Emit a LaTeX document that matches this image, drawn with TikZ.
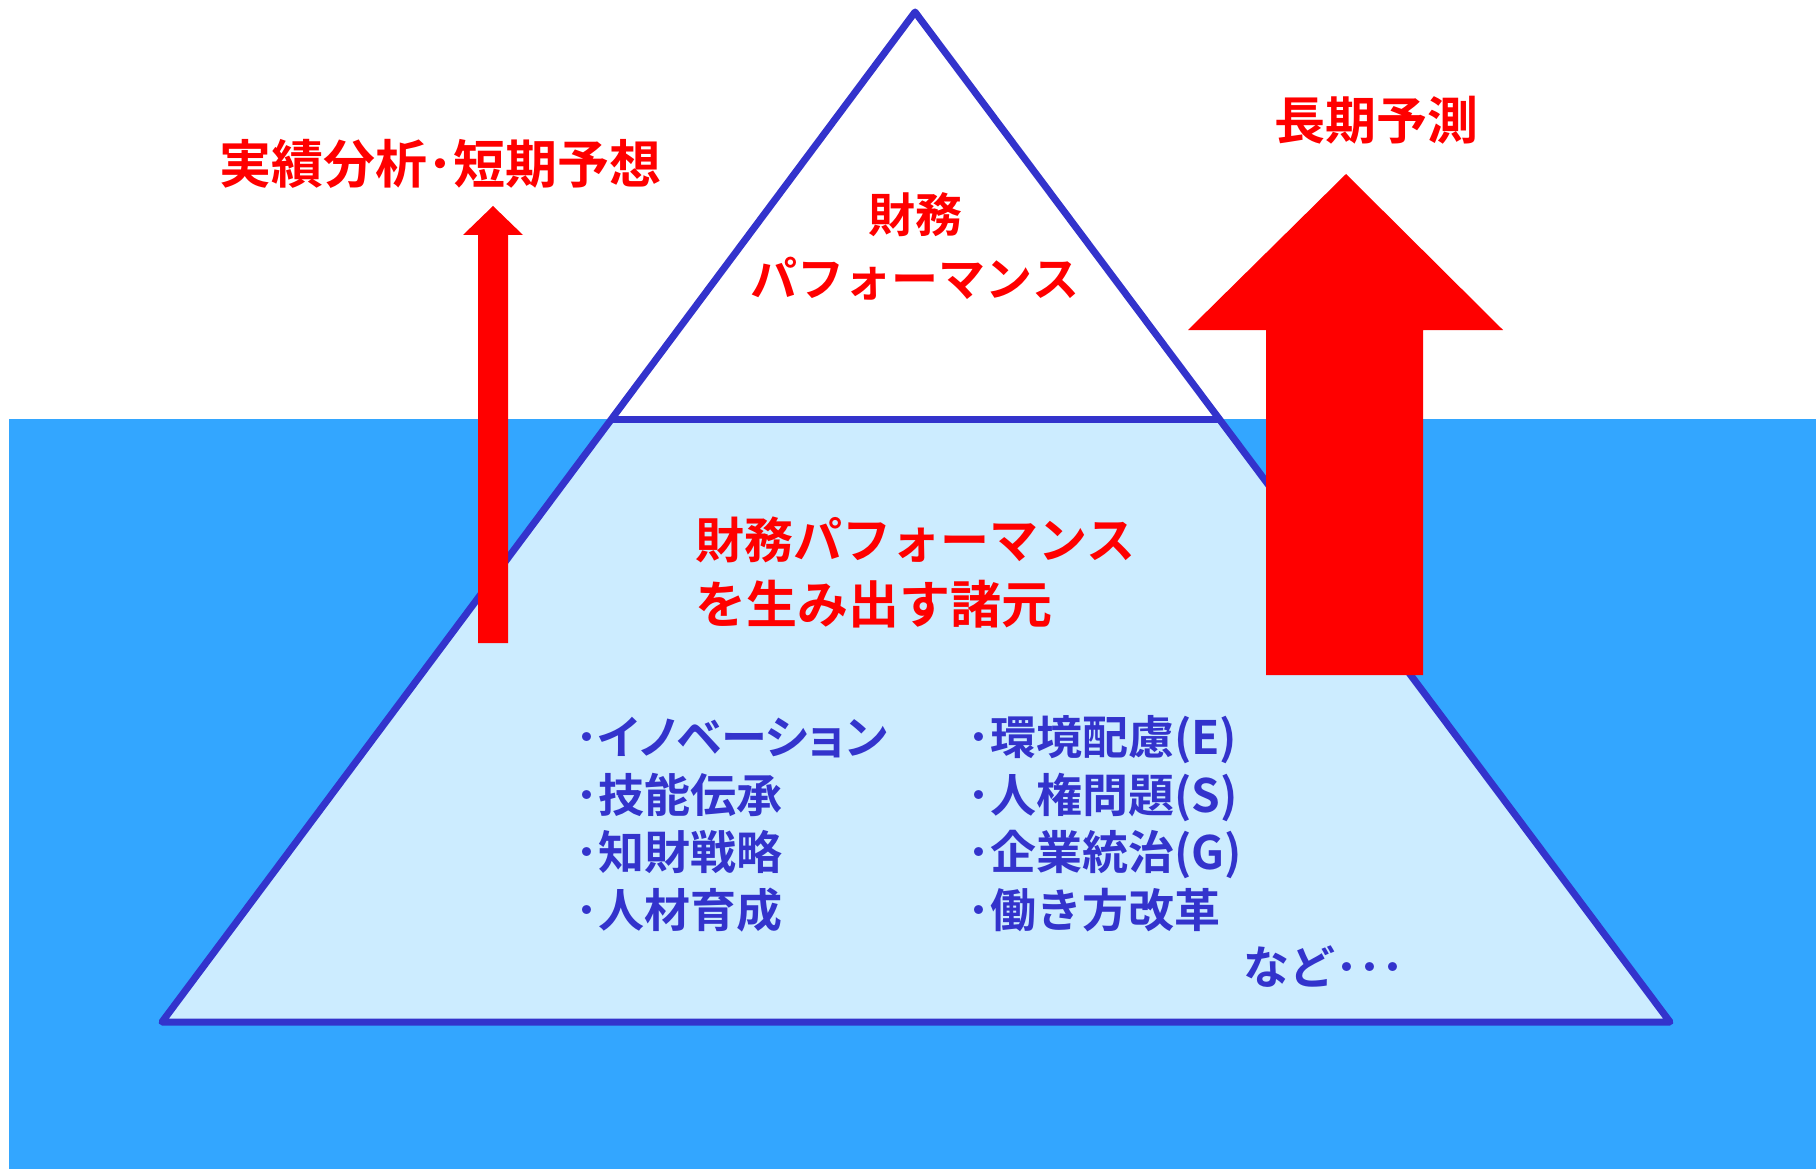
\documentclass[tikz,border=0pt]{standalone}
\usepackage{fontspec}
\newfontfamily\jp[BoldFont={Noto Sans CJK JP Bold}]{Noto Sans CJK JP}
\newfontfamily\jpp[BoldFont={Noto Sans CJK JP Bold},RawFeature=+palt]{Noto Sans CJK JP}
\definecolor{water}{RGB}{51,166,255}
\definecolor{ice}{RGB}{204,236,255}
\definecolor{edge}{RGB}{51,51,204}
\definecolor{hot}{RGB}{255,0,0}
\tikzset{
  lbl/.style={inner sep=0pt, font=\jp\bfseries\fontsize{46}{58}\selectfont, text height=0.88em, text depth=0.12em},
  redlbl/.style={lbl, text=hot},
  bluelbl/.style={lbl, text=edge},
  outline/.style={draw=edge, line width=7pt, line join=round, line cap=round},
  bigarrow/.style={fill=hot, draw=none}
}
\begin{document}
\begin{tikzpicture}[x=1pt,y=-1pt]
\useasboundingbox (0,0) rectangle (1816,1169);
% water
\fill[water] (9,419) rectangle (1816,1169);
% pyramid points
\coordinate (apex) at (915,12);
\coordinate (bl) at (162,1022);
\coordinate (br) at (1670,1022);
\coordinate (dl) at (612,419);
\coordinate (dr) at (1219,419);
\fill[white] (apex) -- (dl) -- (dr) -- cycle;
\fill[ice] (dl) -- (dr) -- (br) -- (bl) -- cycle;
\draw[outline] (apex) -- (bl) -- (br) -- cycle;
\draw[outline] (dl) -- (dr);
% left arrow
\fill[bigarrow] (478,643) -- (478,235) -- (463,235) -- (493,206) -- (523,235) -- (508,235) -- (508,643) -- cycle;
% right arrow
\fill[bigarrow] (1266,675) -- (1266,330) -- (1188,330) -- (1346,174) -- (1503,330) -- (1423,330) -- (1423,675) -- cycle;
% red labels
\node[redlbl, font=\jp\bfseries\fontsize{52}{60}\selectfont] (t1) at (440,180) {実績分析･短期予想};
\node[redlbl, font=\jp\bfseries\fontsize{51}{60}\selectfont] (t2) at (1376,136) {長期予測};
\node[redlbl, font=\jp\bfseries\fontsize{47}{60}\selectfont] (t3) at (915,229) {財務};
\node[redlbl, font=\jp\bfseries\fontsize{47}{60}\selectfont] (t4) at (915,293) {パフォーマンス};
\node[redlbl, anchor=west, font=\jp\bfseries\fontsize{49}{60}\selectfont] (t5) at (695,555) {財務パフォーマンス};
\node[redlbl, anchor=west, font=\jp\bfseries\fontsize{51}{60}\selectfont] (t6) at (695,620) {を生み出す諸元};
% blue list
\node[bluelbl, anchor=west, font=\jpp\bfseries\fontsize{46}{58}\selectfont] (a1) at (575,751) {･イノベーション};
\node[bluelbl, anchor=west] (a2) at (575,809) {･技能伝承};
\node[bluelbl, anchor=west] (a3) at (575,866) {･知財戦略};
\node[bluelbl, anchor=west] (a4) at (575,924) {･人材育成};
\node[bluelbl, anchor=west] (b1) at (967,751) {･環境配慮(E)};
\node[bluelbl, anchor=west] (b2) at (967,809) {･人権問題(S)};
\node[bluelbl, anchor=west] (b3) at (967,866) {･企業統治(G)};
\node[bluelbl, anchor=west] (b4) at (967,924) {･働き方改革};
\node[bluelbl, anchor=west] (c1) at (1243,981) {など･･･};
\end{tikzpicture}
\end{document}
